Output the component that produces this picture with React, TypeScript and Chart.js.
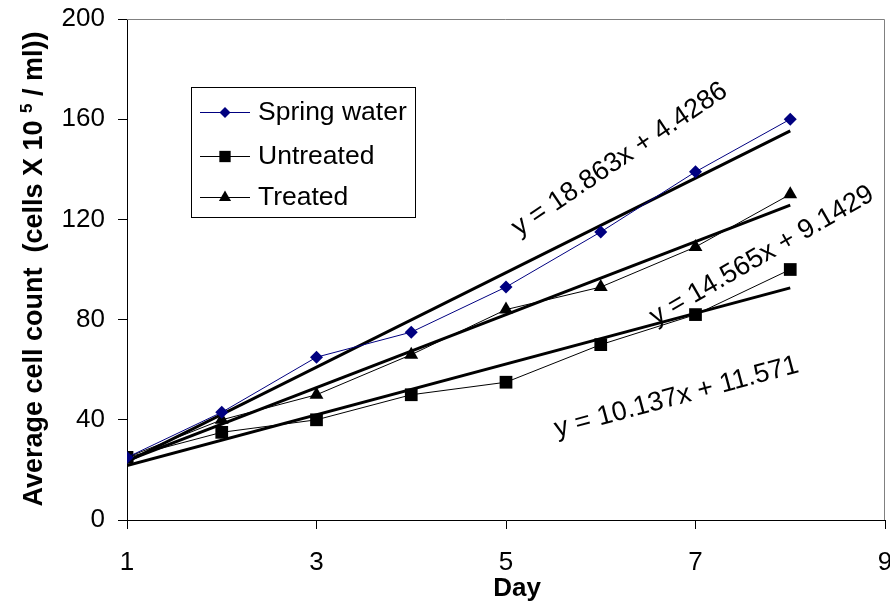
import React, { useEffect, useRef } from "react";
import { Chart, registerables } from "chart.js";

Chart.register(...registerables);

// ---- data ----
const days = [1, 2, 3, 4, 5, 6, 7, 8];
const springWater = [25, 43, 65, 75, 93, 115, 139, 160];
const untreated = [25, 35, 40, 50, 55, 70, 82, 100];
const treated = [25, 40, 50, 66, 84, 93, 109, 130];
const seriesNames = ["Spring water", "Untreated", "Treated"];
const seriesColors = ["#000080", "#000000", "#000000"];
const trendSlopes = [18.863, 10.137, 14.565];
const trendIntercepts = [4.4286, 11.571, 9.1429];
const trendLabels = ["y = 18.863x + 4.4286", "y = 10.137x + 11.571", "y = 14.565x + 9.1429"];
const xMin = 1, xMax = 9, xStep = 2;
const yMin = 0, yMax = 200, yStep = 40;
const xTitle = "Day";
const yTitleMain = "Average cell count  (cells X 10 ";
const yTitleSup = "5";
const yTitleEnd = " / ml))";

const FONT = "'Liberation Sans', Arial, Helvetica, sans-serif";

// label placement (data coordinates) and rotation in degrees
const trendLabelPos = [
  { x: 6.2, y: 144.0, angle: -34 },
  { x: 6.8, y: 49.0, angle: -15 },
  { x: 7.7, y: 105.5, angle: -30 },
];

function drawMarker(ctx: CanvasRenderingContext2D, style: string, x: number, y: number, r: number, color: string) {
  ctx.save();
  ctx.fillStyle = color;
  ctx.beginPath();
  if (style === "rectRot") {
    ctx.moveTo(x - r, y);
    ctx.lineTo(x, y - r);
    ctx.lineTo(x + r, y);
    ctx.lineTo(x, y + r);
  } else if (style === "rect") {
    const s = r * Math.SQRT1_2;
    ctx.rect(x - s, y - s, 2 * s, 2 * s);
  } else {
    ctx.moveTo(x, y - r);
    ctx.lineTo(x + r * Math.sin((2 * Math.PI) / 3), y - r * Math.cos((2 * Math.PI) / 3));
    ctx.lineTo(x + r * Math.sin((4 * Math.PI) / 3), y - r * Math.cos((4 * Math.PI) / 3));
  }
  ctx.closePath();
  ctx.fill();
  ctx.restore();
}

const markerStyles = ["rectRot", "rect", "triangle"];

const overlayPlugin = {
  id: "overlay",
  beforeDatasetsDraw(chart: any) {
    const { ctx, chartArea: a } = chart;
    ctx.save();
    ctx.strokeStyle = "#808080";
    ctx.lineWidth = 1;
    ctx.beginPath();
    ctx.moveTo(a.left, Math.round(a.top) + 0.5);
    ctx.lineTo(Math.round(a.right) - 0.5, Math.round(a.top) + 0.5);
    ctx.lineTo(Math.round(a.right) - 0.5, a.bottom);
    ctx.stroke();
    ctx.restore();
  },
  afterDraw(chart: any) {
    const { ctx } = chart;
    const xs = chart.scales.x;
    const ys = chart.scales.y;

    // trendline equation labels
    ctx.save();
    ctx.fillStyle = "#000";
    ctx.font = `27px ${FONT}`;
    ctx.textAlign = "center";
    ctx.textBaseline = "middle";
    trendLabels.forEach((t, i) => {
      const p = trendLabelPos[i];
      ctx.save();
      ctx.translate(xs.getPixelForValue(p.x), ys.getPixelForValue(p.y));
      ctx.rotate((p.angle * Math.PI) / 180);
      ctx.fillText(t, 0, 0);
      ctx.restore();
    });
    ctx.restore();

    // legend box
    ctx.save();
    ctx.fillStyle = "#fff";
    ctx.strokeStyle = "#000";
    ctx.lineWidth = 1;
    ctx.fillRect(191.5, 87.5, 224, 130);
    ctx.strokeRect(191.5, 87.5, 224, 130);
    const rows = [112, 156, 197];
    ctx.font = `26.5px ${FONT}`;
    ctx.textAlign = "left";
    ctx.textBaseline = "middle";
    seriesNames.forEach((n, i) => {
      const y = rows[i];
      ctx.strokeStyle = seriesColors[i];
      ctx.beginPath();
      ctx.moveTo(200, y + 0.5);
      ctx.lineTo(250, y + 0.5);
      ctx.stroke();
      drawMarker(ctx, markerStyles[i], 225, y + 0.5, i === 0 ? 5.5 : i === 1 ? 8 : 7, seriesColors[i]);
      ctx.fillStyle = "#000";
      ctx.fillText(n, 258, y + 1);
    });
    ctx.restore();

    // x title
    ctx.save();
    ctx.fillStyle = "#000";
    ctx.font = `bold 26px ${FONT}`;
    ctx.textAlign = "center";
    ctx.textBaseline = "alphabetic";
    ctx.fillText(xTitle, 517, 596);
    ctx.restore();

    // y title (rotated, with superscript)
    ctx.save();
    ctx.fillStyle = "#000";
    const mainFont = `bold 27px ${FONT}`;
    const supFont = `bold 17px ${FONT}`;
    ctx.font = mainFont;
    const w1 = ctx.measureText(yTitleMain).width;
    const w3 = ctx.measureText(yTitleEnd).width;
    ctx.font = supFont;
    const w2 = ctx.measureText(yTitleSup).width;
    const total = w1 + w2 + w3;
    ctx.translate(42, 269);
    ctx.rotate(-Math.PI / 2);
    ctx.textAlign = "left";
    ctx.textBaseline = "alphabetic";
    let cx = -total / 2;
    ctx.font = mainFont;
    ctx.fillText(yTitleMain, cx, 0);
    cx += w1;
    ctx.font = supFont;
    ctx.fillText(yTitleSup, cx, -10);
    cx += w2;
    ctx.font = mainFont;
    ctx.fillText(yTitleEnd, cx, 0);
    ctx.restore();
  },
};

const CANVAS_W = 894;
const VIEW_W = 890;
const VIEW_H = 606;

export default function App() {
  const ref = useRef<HTMLCanvasElement | null>(null);

  useEffect(() => {
    document.body.style.margin = "0";
    const canvas = ref.current;
    if (!canvas) return;

    const toXY = (vals: number[]) => vals.map((v, i) => ({ x: days[i], y: v }));
    const trend = (i: number) => {
      const x0 = days[0];
      const x1 = days[days.length - 1];
      return [
        { x: x0, y: trendIntercepts[i] + trendSlopes[i] * x0 },
        { x: x1, y: trendIntercepts[i] + trendSlopes[i] * x1 },
      ];
    };
    const seriesData = [springWater, untreated, treated];
    const pointRadii = [6.5, 9, 8];

    const dataSets: any[] = [];
    seriesData.forEach((vals, i) => {
      dataSets.push({
        label: seriesNames[i],
        data: toXY(vals),
        borderColor: seriesColors[i],
        backgroundColor: seriesColors[i],
        borderWidth: 1,
        pointStyle: markerStyles[i],
        pointRadius: pointRadii[i],
        pointBorderWidth: 0,
        pointBackgroundColor: seriesColors[i],
        tension: 0,
        order: 1,
      });
    });
    [0, 1, 2].forEach((i) => {
      dataSets.push({
        label: "trend " + seriesNames[i],
        data: trend(i),
        borderColor: "#000",
        borderWidth: 3,
        pointRadius: 0,
        tension: 0,
        order: 2,
      });
    });

    const chart = new Chart(canvas, {
      type: "line",
      data: { datasets: dataSets },
      plugins: [overlayPlugin],
      options: {
        animation: false,
        responsive: false,
        devicePixelRatio: 1,
        layout: { padding: { top: 19, right: 0, left: 0, bottom: 0 } },
        plugins: { legend: { display: false }, tooltip: { enabled: false } },
        scales: {
          x: {
            type: "linear",
            min: xMin,
            max: xMax,
            ticks: { stepSize: xStep, color: "#000", font: { family: FONT, size: 26 }, padding: 18, maxRotation: 0 },
            grid: { display: true, drawOnChartArea: false, drawTicks: true, tickLength: 9, color: "#000" },
            border: { display: true, color: "#000", width: 1 },
            afterFit: (s: any) => {
              s.height = 86;
              s.paddingLeft = 0;
              s.paddingRight = 0;
            },
          },
          y: {
            type: "linear",
            min: yMin,
            max: yMax,
            ticks: { stepSize: yStep, color: "#000", font: { family: FONT, size: 26 }, padding: 13 },
            grid: { display: true, drawOnChartArea: false, drawTicks: true, tickLength: 9, color: "#000" },
            border: { display: true, color: "#000", width: 1 },
            afterFit: (s: any) => {
              s.width = 127;
              s.paddingTop = 0;
              s.paddingBottom = 0;
            },
          },
        },
      } as any,
    });
    return () => chart.destroy();
  }, []);

  return (
    <div style={{ width: VIEW_W, height: VIEW_H, overflow: "hidden", position: "relative" }}>
      <canvas ref={ref} width={CANVAS_W} height={VIEW_H} style={{ display: "block", width: CANVAS_W, height: VIEW_H }} />
    </div>
  );
}
